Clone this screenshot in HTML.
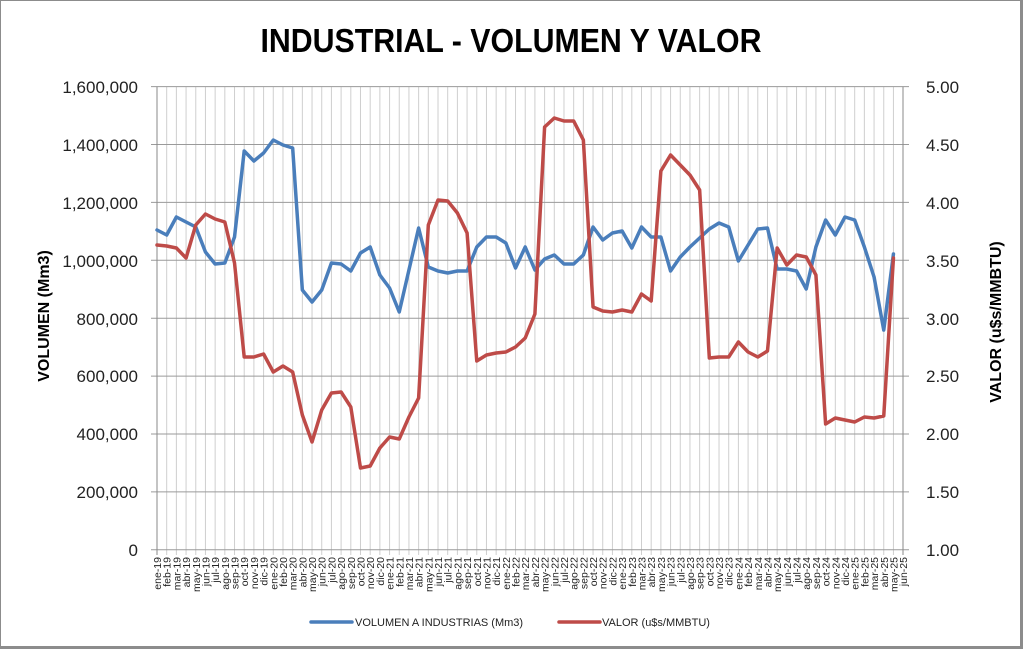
<!DOCTYPE html>
<html><head><meta charset="utf-8"><style>
html,body{margin:0;padding:0;background:#fff}
svg{display:block}
text{font-family:"Liberation Sans",sans-serif}
</style></head><body>
<svg width="1023" height="649" viewBox="0 0 1023 649" xmlns="http://www.w3.org/2000/svg">
<rect x="0" y="0" width="1023" height="649" fill="#fff"/>
<rect x="0.5" y="0.5" width="1020" height="646" fill="none" stroke="#8c8c8c" stroke-width="1"/>
<rect x="1020" y="0" width="3" height="649" fill="#8c8c8c"/>
<rect x="0" y="646" width="1023" height="3" fill="#8c8c8c"/>

<text x="511" y="52" font-size="33" font-weight="bold" text-anchor="middle" textLength="501" lengthAdjust="spacingAndGlyphs" fill="#000">INDUSTRIAL - VOLUMEN Y VALOR</text>

<!-- vertical gridlines -->
<g transform="translate(157,0) scale(9.69,1)">
<path vector-effect="non-scaling-stroke" stroke="#cfcfcf" stroke-width="1" fill="none" d="M1 86.6V555M2 86.6V555M3 86.6V555M4 86.6V555M5 86.6V555M6 86.6V555M7 86.6V555M8 86.6V555M9 86.6V555M10 86.6V555M11 86.6V555M12 86.6V555M13 86.6V555M14 86.6V555M15 86.6V555M16 86.6V555M17 86.6V555M18 86.6V555M19 86.6V555M20 86.6V555M21 86.6V555M22 86.6V555M23 86.6V555M24 86.6V555M25 86.6V555M26 86.6V555M27 86.6V555M28 86.6V555M29 86.6V555M30 86.6V555M31 86.6V555M32 86.6V555M33 86.6V555M34 86.6V555M35 86.6V555M36 86.6V555M37 86.6V555M38 86.6V555M39 86.6V555M40 86.6V555M41 86.6V555M42 86.6V555M43 86.6V555M44 86.6V555M45 86.6V555M46 86.6V555M47 86.6V555M48 86.6V555M49 86.6V555M50 86.6V555M51 86.6V555M52 86.6V555M53 86.6V555M54 86.6V555M55 86.6V555M56 86.6V555M57 86.6V555M58 86.6V555M59 86.6V555M60 86.6V555M61 86.6V555M62 86.6V555M63 86.6V555M64 86.6V555M65 86.6V555M66 86.6V555M67 86.6V555M68 86.6V555M69 86.6V555M70 86.6V555M71 86.6V555M72 86.6V555M73 86.6V555M74 86.6V555M75 86.6V555M76 86.6V555"/>
</g>
<!-- horizontal gridlines -->
<path stroke="#9a9a9a" stroke-width="1" fill="none" d="M151 86.6H909M151 144.5H909M151 202.4H909M151 260.3H909M151 318.2H909M151 376.1H909M151 434H909M151 491.9H909M151 549.8H909"/>
<!-- axes -->
<path stroke="#8a8a8a" stroke-width="1" fill="none" d="M157 86.6V555M903 86.6V555"/>

<!-- left tick labels -->
<g font-size="17" fill="#222" text-anchor="end">
<text x="138" y="93">1,600,000</text>
<text x="138" y="151">1,400,000</text>
<text x="138" y="209">1,200,000</text>
<text x="138" y="267">1,000,000</text>
<text x="138" y="325">800,000</text>
<text x="138" y="382">600,000</text>
<text x="138" y="440">400,000</text>
<text x="138" y="498">200,000</text>
<text x="138" y="556">0</text>
</g>
<g font-size="17" fill="#222">
<text x="926" y="93">5.00</text>
<text x="926" y="151">4.50</text>
<text x="926" y="209">4.00</text>
<text x="926" y="267">3.50</text>
<text x="926" y="325">3.00</text>
<text x="926" y="382">2.50</text>
<text x="926" y="440">2.00</text>
<text x="926" y="498">1.50</text>
<text x="926" y="556">1.00</text>
</g>

<text transform="translate(49,316) rotate(-90)" font-size="16" font-weight="bold" text-anchor="middle" fill="#000">VOLUMEN (Mm3)</text>
<text transform="translate(1001,322) rotate(-90)" font-size="16" font-weight="bold" text-anchor="middle" fill="#000">VALOR (u$s/MMBTU)</text>

<!-- month labels -->
<g font-size="10.5" fill="#222" text-anchor="end">
<text transform="translate(161,557) rotate(-90)">ene-19</text>
<text transform="translate(170.7,557) rotate(-90)">feb-19</text>
<text transform="translate(180.4,557) rotate(-90)">mar-19</text>
<text transform="translate(190.1,557) rotate(-90)">abr-19</text>
<text transform="translate(199.8,557) rotate(-90)">may-19</text>
<text transform="translate(209.5,557) rotate(-90)">jun-19</text>
<text transform="translate(219.1,557) rotate(-90)">jul-19</text>
<text transform="translate(228.8,557) rotate(-90)">ago-19</text>
<text transform="translate(238.5,557) rotate(-90)">sep-19</text>
<text transform="translate(248.2,557) rotate(-90)">oct-19</text>
<text transform="translate(257.9,557) rotate(-90)">nov-19</text>
<text transform="translate(267.6,557) rotate(-90)">dic-19</text>
<text transform="translate(277.3,557) rotate(-90)">ene-20</text>
<text transform="translate(287,557) rotate(-90)">feb-20</text>
<text transform="translate(296.7,557) rotate(-90)">mar-20</text>
<text transform="translate(306.4,557) rotate(-90)">abr-20</text>
<text transform="translate(316,557) rotate(-90)">may-20</text>
<text transform="translate(325.7,557) rotate(-90)">jun-20</text>
<text transform="translate(335.4,557) rotate(-90)">jul-20</text>
<text transform="translate(345.1,557) rotate(-90)">ago-20</text>
<text transform="translate(354.8,557) rotate(-90)">sep-20</text>
<text transform="translate(364.5,557) rotate(-90)">oct-20</text>
<text transform="translate(374.2,557) rotate(-90)">nov-20</text>
<text transform="translate(383.9,557) rotate(-90)">dic-20</text>
<text transform="translate(393.6,557) rotate(-90)">ene-21</text>
<text transform="translate(403.3,557) rotate(-90)">feb-21</text>
<text transform="translate(412.9,557) rotate(-90)">mar-21</text>
<text transform="translate(422.6,557) rotate(-90)">abr-21</text>
<text transform="translate(432.3,557) rotate(-90)">may-21</text>
<text transform="translate(442,557) rotate(-90)">jun-21</text>
<text transform="translate(451.7,557) rotate(-90)">jul-21</text>
<text transform="translate(461.4,557) rotate(-90)">ago-21</text>
<text transform="translate(471.1,557) rotate(-90)">sep-21</text>
<text transform="translate(480.8,557) rotate(-90)">oct-21</text>
<text transform="translate(490.5,557) rotate(-90)">nov-21</text>
<text transform="translate(500.2,557) rotate(-90)">dic-21</text>
<text transform="translate(509.8,557) rotate(-90)">ene-22</text>
<text transform="translate(519.5,557) rotate(-90)">feb-22</text>
<text transform="translate(529.2,557) rotate(-90)">mar-22</text>
<text transform="translate(538.9,557) rotate(-90)">abr-22</text>
<text transform="translate(548.6,557) rotate(-90)">may-22</text>
<text transform="translate(558.3,557) rotate(-90)">jun-22</text>
<text transform="translate(568,557) rotate(-90)">jul-22</text>
<text transform="translate(577.7,557) rotate(-90)">ago-22</text>
<text transform="translate(587.4,557) rotate(-90)">sep-22</text>
<text transform="translate(597.1,557) rotate(-90)">oct-22</text>
<text transform="translate(606.7,557) rotate(-90)">nov-22</text>
<text transform="translate(616.4,557) rotate(-90)">dic-22</text>
<text transform="translate(626.1,557) rotate(-90)">ene-23</text>
<text transform="translate(635.8,557) rotate(-90)">feb-23</text>
<text transform="translate(645.5,557) rotate(-90)">mar-23</text>
<text transform="translate(655.2,557) rotate(-90)">abr-23</text>
<text transform="translate(664.9,557) rotate(-90)">may-23</text>
<text transform="translate(674.6,557) rotate(-90)">jun-23</text>
<text transform="translate(684.3,557) rotate(-90)">jul-23</text>
<text transform="translate(694,557) rotate(-90)">ago-23</text>
<text transform="translate(703.6,557) rotate(-90)">sep-23</text>
<text transform="translate(713.3,557) rotate(-90)">oct-23</text>
<text transform="translate(723,557) rotate(-90)">nov-23</text>
<text transform="translate(732.7,557) rotate(-90)">dic-23</text>
<text transform="translate(742.4,557) rotate(-90)">ene-24</text>
<text transform="translate(752.1,557) rotate(-90)">feb-24</text>
<text transform="translate(761.8,557) rotate(-90)">mar-24</text>
<text transform="translate(771.5,557) rotate(-90)">abr-24</text>
<text transform="translate(781.2,557) rotate(-90)">may-24</text>
<text transform="translate(790.9,557) rotate(-90)">jun-24</text>
<text transform="translate(800.5,557) rotate(-90)">jul-24</text>
<text transform="translate(810.2,557) rotate(-90)">ago-24</text>
<text transform="translate(819.9,557) rotate(-90)">sep-24</text>
<text transform="translate(829.6,557) rotate(-90)">oct-24</text>
<text transform="translate(839.3,557) rotate(-90)">nov-24</text>
<text transform="translate(849,557) rotate(-90)">dic-24</text>
<text transform="translate(858.7,557) rotate(-90)">ene-25</text>
<text transform="translate(868.4,557) rotate(-90)">feb-25</text>
<text transform="translate(878.1,557) rotate(-90)">mar-25</text>
<text transform="translate(887.8,557) rotate(-90)">abr-25</text>
<text transform="translate(897.4,557) rotate(-90)">may-25</text>
<text transform="translate(907.1,557) rotate(-90)">jun-25</text>
</g>

<!-- series -->
<g transform="translate(157,0) scale(9.69,1)" fill="none" stroke-linejoin="round" stroke-linecap="round">
<polyline vector-effect="non-scaling-stroke" stroke="#4a7ebb" stroke-width="3.5" points="0,230 1,235 2,217 3,222 4,227 5,252 6,264 7,263 8,237 9,151 10,161 11,153 12,140 13,145 14,148 15,290 16,302 17,290 18,263 19,264 20,271 21,253 22,247 23,275 24,288 25,312 26,270 27,228 28,267 29,271 30,273 31,271 32,271 33,247 34,237 35,237 36,243 37,268 38,247 39,270 40,259 41,255 42,264 43,264 44,255 45,227 46,240 47,233 48,231 49,248 50,227 51,237 52,237 53,271 54,257 55,247 56,238 57,229 58,223 59,227 60,261 61,245 62,229 63,228 64,269 65,269 66,271 67,289 68,247 69,220 70,235 71,217 72,220 73,247 74,277 75,330 76,254"/>
<polyline vector-effect="non-scaling-stroke" stroke="#be4b48" stroke-width="3.5" points="0,245 1,246 2,248 3,258 4,225 5,214 6,219 7,222 8,263 9,357 10,357 11,354 12,372 13,366 14,372 15,415 16,442 17,410 18,393 19,392 20,407 21,468 22,466 23,448 24,437 25,439 26,417 27,398 28,225 29,200 30,201 31,213 32,233 33,361 34,355 35,353 36,352 37,347 38,338 39,314 40,127 41,118 42,121 43,121 44,140 45,307 46,311 47,312 48,310 49,312 50,294 51,301 52,171 53,155 54,165 55,175 56,190 57,358 58,357 59,357 60,342 61,352 62,357 63,351 64,248 65,265 66,255 67,257 68,275 69,424 70,418 71,420 72,422 73,417 74,418 75,416 76,258"/>
</g>

<!-- legend -->
<line x1="311" y1="622" x2="352" y2="622" stroke="#4a7ebb" stroke-width="3.5" stroke-linecap="round"/>
<text x="355" y="626" font-size="11" fill="#222">VOLUMEN A INDUSTRIAS (Mm3)</text>
<line x1="559" y1="622" x2="600" y2="622" stroke="#be4b48" stroke-width="3.5" stroke-linecap="round"/>
<text x="602" y="626" font-size="11" fill="#222">VALOR (u$s/MMBTU)</text>
</svg>
</body></html>
